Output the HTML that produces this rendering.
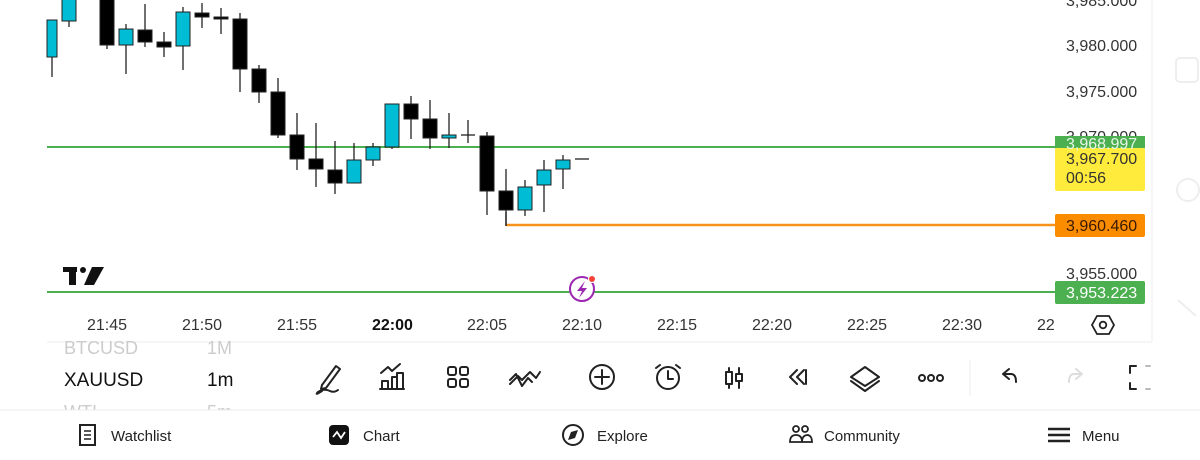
<!DOCTYPE html>
<html><head><meta charset="utf-8"><style>
html,body{margin:0;padding:0;background:#fff;width:1200px;height:460px;overflow:hidden}
svg{display:block}
text{font-family:"Liberation Sans",sans-serif}
</style></head><body>
<svg width="1200" height="460" viewBox="0 0 1200 460" xmlns="http://www.w3.org/2000/svg">
<rect width="1200" height="460" fill="#fff"/>
<!-- right side panel -->
<line x1="1152" y1="0" x2="1152" y2="342" stroke="#eee" stroke-width="1"/>
<rect x="1176" y="58" width="22" height="24" rx="4" fill="none" stroke="#eee" stroke-width="2"/>
<circle cx="1188" cy="190" r="11" fill="none" stroke="#eee" stroke-width="2"/>
<line x1="1178" y1="300" x2="1196" y2="316" stroke="#eee" stroke-width="2"/>
<line x1="47" y1="342" x2="1152" y2="342" stroke="#eee"/>
<line x1="0" y1="410" x2="1200" y2="410" stroke="#eee"/>

<!-- price axis -->
<g font-size="16" fill="#333">
<text x="1066" y="6">3,985.000</text>
<text x="1066" y="51">3,980.000</text>
<text x="1066" y="97">3,975.000</text>
<text x="1066" y="142">3,970.000</text>
<text x="1066" y="279">3,955.000</text>
</g>

<!-- lines -->
<line x1="47" y1="147" x2="1055" y2="147" stroke="#4caf50" stroke-width="2"/>
<line x1="506" y1="225" x2="1055" y2="225" stroke="#f7931a" stroke-width="2.5"/>
<line x1="506" y1="212" x2="506" y2="226" stroke="#555" stroke-width="1.5"/>
<line x1="47" y1="292" x2="1055" y2="292" stroke="#4caf50" stroke-width="2"/>

<!-- labels -->
<rect x="1055" y="136" width="90" height="13" rx="2" fill="#4caf50"/>
<text x="1066" y="150" font-size="16" fill="#fff">3,968.997</text>
<rect x="1055" y="148" width="90" height="43" rx="2" fill="#ffeb3b"/>
<rect x="1055" y="136" width="90" height="12" fill="#4caf50"/>
<text x="1066" y="149" font-size="16" fill="#e8f5e9" clip-path="url(#cg)">3,968.997</text>
<text x="1066" y="164" font-size="16" fill="#333">3,967.700</text>
<text x="1066" y="183" font-size="16" fill="#333">00:56</text>
<rect x="1055" y="214" width="90" height="23" rx="2" fill="#fb8c00"/>
<text x="1066" y="231" font-size="16" fill="#3a1a00">3,960.460</text>
<rect x="1055" y="281" width="90" height="23" rx="2" fill="#4caf50"/>
<text x="1066" y="298" font-size="16" fill="#fff">3,953.223</text>

<!-- candles -->
<g stroke="#222" stroke-width="1.3">
<!-- wicks -->
<line x1="52" y1="20" x2="52" y2="77"/><line x1="69" y1="0" x2="69" y2="27"/>
<line x1="107" y1="0" x2="107" y2="49"/><line x1="126" y1="24" x2="126" y2="74"/>
<line x1="145" y1="4" x2="145" y2="47"/><line x1="164" y1="32" x2="164" y2="57"/>
<line x1="183" y1="7" x2="183" y2="70"/><line x1="202" y1="3" x2="202" y2="28"/>
<line x1="221" y1="8" x2="221" y2="34"/><line x1="240" y1="13" x2="240" y2="92"/>
<line x1="259" y1="65" x2="259" y2="103"/><line x1="278" y1="78" x2="278" y2="138"/>
<line x1="297" y1="113" x2="297" y2="170"/><line x1="316" y1="123" x2="316" y2="187"/>
<line x1="335" y1="141" x2="335" y2="194"/><line x1="354" y1="143" x2="354" y2="183"/>
<line x1="373" y1="143" x2="373" y2="166"/><line x1="392" y1="104" x2="392" y2="149"/>
<line x1="411" y1="96" x2="411" y2="139"/><line x1="430" y1="100" x2="430" y2="149"/>
<line x1="449" y1="113" x2="449" y2="148"/><line x1="468" y1="120" x2="468" y2="143"/>
<line x1="487" y1="132" x2="487" y2="215"/><line x1="506" y1="169" x2="506" y2="226"/>
<line x1="525" y1="180" x2="525" y2="216"/><line x1="544" y1="160" x2="544" y2="212"/>
<line x1="563" y1="155" x2="563" y2="189"/>
<line x1="461" y1="135" x2="475" y2="135"/><line x1="575" y1="159" x2="589" y2="159"/>
</g>
<g stroke="#222" stroke-width="1">
<rect x="47" y="20" width="10" height="37" fill="#00bcd4"/>
<rect x="62" y="-2" width="14" height="23" fill="#00bcd4"/>
<rect x="100" y="-2" width="14" height="47" fill="#000"/>
<rect x="119" y="29" width="14" height="16" fill="#00bcd4"/>
<rect x="138" y="30" width="14" height="12" fill="#000"/>
<rect x="157" y="42" width="14" height="5" fill="#000"/>
<rect x="176" y="12" width="14" height="34" fill="#00bcd4"/>
<rect x="195" y="13" width="14" height="4" fill="#000"/>
<rect x="214" y="17" width="14" height="2" fill="#000"/>
<rect x="233" y="19" width="14" height="50" fill="#000"/>
<rect x="252" y="69" width="14" height="23" fill="#000"/>
<rect x="271" y="92" width="14" height="43" fill="#000"/>
<rect x="290" y="135" width="14" height="24" fill="#000"/>
<rect x="309" y="159" width="14" height="10" fill="#000"/>
<rect x="328" y="170" width="14" height="13" fill="#000"/>
<rect x="347" y="160" width="14" height="23" fill="#00bcd4"/>
<rect x="366" y="147" width="14" height="13" fill="#00bcd4"/>
<rect x="385" y="104" width="14" height="43" fill="#00bcd4"/>
<rect x="404" y="104" width="14" height="15" fill="#000"/>
<rect x="423" y="119" width="14" height="19" fill="#000"/>
<rect x="442" y="135" width="14" height="3" fill="#00bcd4"/>
<rect x="480" y="136" width="14" height="55" fill="#000"/>
<rect x="499" y="191" width="14" height="19" fill="#000"/>
<rect x="518" y="187" width="14" height="23" fill="#00bcd4"/>
<rect x="537" y="170" width="14" height="15" fill="#00bcd4"/>
<rect x="556" y="160" width="14" height="9" fill="#00bcd4"/>
</g>

<!-- TV logo -->
<g fill="#111">
<rect x="63" y="267" width="14" height="5"/><rect x="69" y="267" width="7" height="18"/>
<circle cx="83" cy="270" r="3"/>
<polygon points="92,267 104,267 94,285 84,285"/>
</g>
<!-- lightning icon -->
<circle cx="582" cy="289" r="12" fill="#fff" stroke="#9c27b0" stroke-width="2"/>
<path d="M585 281 L577 291 L582 291 L579 298 L587 288 L582 288 Z" fill="#9c27b0"/>
<circle cx="592" cy="279" r="3.5" fill="#f44336" stroke="#fff" stroke-width="1"/>

<!-- time axis -->
<g font-size="16" fill="#333">
<text x="87" y="330">21:45</text><text x="182" y="330">21:50</text>
<text x="277" y="330">21:55</text><text x="372" y="330" font-weight="bold" fill="#111">22:00</text>
<text x="467" y="330">22:05</text><text x="562" y="330">22:10</text>
<text x="657" y="330">22:15</text><text x="752" y="330">22:20</text>
<text x="847" y="330">22:25</text><text x="942" y="330">22:30</text>
<text x="1037" y="330">22</text>
</g>
<polygon points="1097,316 1109,316 1114,325 1109,334 1097,334 1092,325" fill="none" stroke="#222" stroke-width="1.8"/>
<circle cx="1103" cy="325" r="3.3" fill="none" stroke="#222" stroke-width="1.8"/>

<!-- symbol list -->
<g font-size="18">
<text x="64" y="354" fill="#ccc">BTCUSD</text><text x="207" y="354" fill="#ccc">1M</text>
<text x="64" y="386" fill="#111" font-size="19">XAUUSD</text><text x="207" y="386" fill="#111" font-size="19">1m</text>
<text x="64" y="418" fill="#ccc">WTI</text><text x="207" y="418" fill="#ccc">5m</text>
</g>
<rect x="0" y="410" width="1200" height="50" fill="#fff"/>
<line x1="0" y1="410" x2="1200" y2="410" stroke="#eee"/>

<!-- toolbar icons -->
<g fill="none" stroke="#222" stroke-width="2" stroke-linecap="round" stroke-linejoin="round">
<path d="M322 385 L336 366 L340 369 L326 388 L321 389 Z"/><path d="M322 391 Q314 396 318 392 Q324 388 330 391 Q334 393 338 390"/>
<path d="M382 388 L382 381 L388 381 L388 388 M392 388 L392 377 L397 377 L397 382 M397 388 L397 373 L403 373 L403 388 M380 389 L404 389 M381 373 L388 367 L392 371 L400 364"/>
<rect x="448" y="367" width="8" height="8" rx="2"/><rect x="460" y="367" width="8" height="8" rx="2"/>
<rect x="448" y="379" width="8" height="8" rx="2"/><rect x="460" y="379" width="8" height="8" rx="2"/>
<path d="M510 384 L518 376 L522 380 L530 372 L536 378 L540 372 M510 380 L516 374 L522 386 L528 378 L532 382"/>
<circle cx="602" cy="377" r="12"/><path d="M602 370 L602 384 M595 377 L609 377"/>
<circle cx="668" cy="378" r="11"/><path d="M668 371 L668 379 L673 379 M656 368 L660 365 M680 368 L676 365"/>
<path d="M729 368 L729 388 M739 368 L739 388"/><rect x="726" y="372" width="6" height="12" fill="#fff"/><rect x="736" y="374" width="6" height="7" fill="#fff"/>
<path d="M797 370 L790 377 L797 384 M804 370 L797 377 L804 384 M806 370 L806 384"/>
<path d="M851 377 L865 367 L879 377 L865 386 Z M851 381 L865 391 L879 381"/>
<circle cx="922" cy="378" r="3"/><circle cx="931" cy="378" r="3"/><circle cx="940" cy="378" r="3"/>
<path d="M1003 374 L1009 369 M1003 374 L1009 379 M1003 374 L1011 374 Q1016 374 1016 382"/>
<path d="M1082 374 L1076 369 M1082 374 L1076 379 M1082 374 L1074 374 Q1069 374 1069 382" stroke="#ddd"/>
<path d="M1136 366 L1130 366 L1130 373 M1130 383 L1130 389 L1136 389"/>
<path d="M1146 366 L1150 366 M1146 389 L1150 389" stroke="#bbb"/>
</g>
<line x1="970" y1="360" x2="970" y2="396" stroke="#eee"/>

<!-- bottom nav -->
<g font-size="15" fill="#222">
<rect x="80" y="425" width="15" height="20" fill="none" stroke="#222" stroke-width="2"/>
<path d="M84 431 L91 431 M84 435 L91 435 M84 439 L91 439" stroke="#222" stroke-width="1.5"/>
<text x="111" y="441">Watchlist</text>
<rect x="329" y="425" width="20" height="20" rx="4" fill="#111"/>
<path d="M333 437 L337 432 L341 438 L345 432" stroke="#fff" stroke-width="1.8" fill="none"/>
<text x="363" y="441">Chart</text>
<circle cx="573" cy="435" r="10" fill="none" stroke="#222" stroke-width="2"/>
<path d="M578 430 L575 438 L568 440 L571 432 Z" fill="#222"/>
<text x="597" y="441">Explore</text>
<circle cx="796" cy="429" r="3" fill="none" stroke="#222" stroke-width="1.8"/>
<circle cx="805" cy="429" r="3" fill="none" stroke="#222" stroke-width="1.8"/>
<path d="M790 442 Q790 435 796 435 Q802 435 802 442 Z M802 442 Q802 435 808 435 Q812 436 812 442 Z" fill="none" stroke="#222" stroke-width="1.8"/>
<text x="824" y="441">Community</text>
<path d="M1048 429 L1070 429 M1048 435 L1070 435 M1048 441 L1070 441" stroke="#222" stroke-width="2.6"/>
<text x="1082" y="441">Menu</text>
</g>
</svg>
</body></html>
